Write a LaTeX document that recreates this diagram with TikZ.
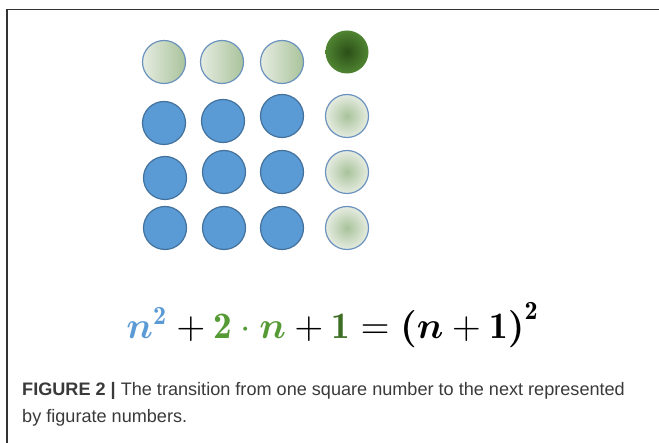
\documentclass[tikz,border=0pt]{standalone}
\usepackage{fontspec}
\usepackage{amsmath}
\usepackage{bm}
\newfontfamily\capfont{Liberation Sans}
\definecolor{dotblue}{HTML}{5B9BD5}
\definecolor{dotedge}{HTML}{41719C}
\definecolor{greenedge}{HTML}{6A92BD}
\definecolor{lightA}{HTML}{E6ECE1}
\definecolor{lightB}{HTML}{A9C39B}
\definecolor{darkin}{HTML}{2B4F17}
\definecolor{darkout}{HTML}{4F8431}
\definecolor{eqblue}{HTML}{5B9BD5}
\definecolor{eqgreen}{HTML}{559A34}
\definecolor{eqdark}{HTML}{3D6E24}
\definecolor{captext}{HTML}{3A3A3A}
\definecolor{frame}{HTML}{333333}
\tikzset{
  bluedot/.style={circle, minimum size=43pt, inner sep=0pt, fill=dotblue, draw=dotedge, line width=1.2pt},
  rowdot/.style={circle, minimum size=43pt, inner sep=0pt, draw=greenedge, line width=1.2pt, left color=lightA, right color=lightB},
  coldot/.style={circle, minimum size=43pt, inner sep=0pt, draw=greenedge, line width=1.2pt, inner color=lightB, outer color=lightA},
  darkdot/.style={circle, minimum size=43pt, inner sep=0pt, inner color=darkin, outer color=darkout},
}
\begin{document}
\begin{tikzpicture}[x=1pt,y=-1pt]
\useasboundingbox (0,0) rectangle (659,443);
\fill[white] (0,0) rectangle (659,443);
% frame
\coordinate (ftl) at (7,9.5);
\coordinate (ftr) at (659,9.5);
\coordinate (fbl) at (7,443);
\draw[frame, line width=1.6pt] (fbl) -- (ftl) -- (ftr);
% top row
\node[rowdot] (r1c1) at (164,62) {};
\node[rowdot] (r1c2) at (222,62) {};
\node[rowdot] (r1c3) at (282,62) {};
\node[darkdot] (r1c4) at (347,52) {};
% row 2
\node[bluedot] (r2c1) at (164,123) {};
\node[bluedot] (r2c2) at (223,121) {};
\node[bluedot] (r2c3) at (282,116) {};
\node[coldot] (r2c4) at (347,116) {};
% row 3
\node[bluedot] (r3c1) at (165,178) {};
\node[bluedot] (r3c2) at (224,172) {};
\node[bluedot] (r3c3) at (282,172) {};
\node[coldot] (r3c4) at (347,172) {};
% row 4
\node[bluedot] (r4c1) at (165,228) {};
\node[bluedot] (r4c2) at (224,228) {};
\node[bluedot] (r4c3) at (282,228) {};
\node[coldot] (r4c4) at (347,228) {};
% equation
\node (eq) at (333,325) {\resizebox{413pt}{!}{$\color{eqblue}\bm{n}^{\mathbf{2}}\color{black}+\color{eqgreen}\mathbf{2}\cdot\bm{n}\color{black}+\color{eqdark}\mathbf{1}\color{black}=\bm{(}\bm{n}+\mathbf{1}\bm{)}^{\mathbf{2}}$}};
% caption
\node[anchor=north west, inner sep=0pt, align=left, text=captext, font=\capfont\fontsize{18.1}{27}\selectfont] (cap) at (22,382) {\textbf{FIGURE 2 |} The transition from one square number to the next represented\\by figurate numbers.};
\end{tikzpicture}
\end{document}
